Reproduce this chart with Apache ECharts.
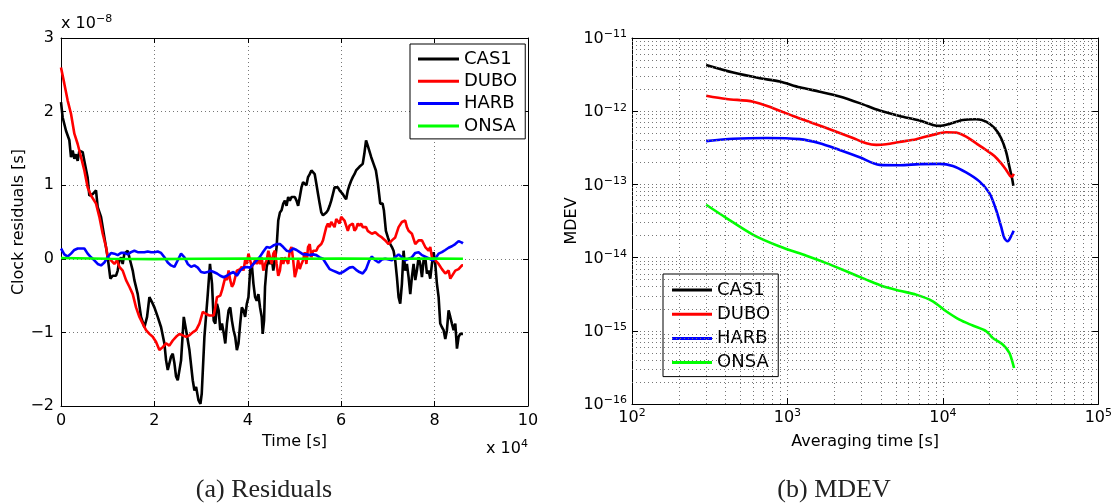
<!DOCTYPE html>
<html>
<head>
<meta charset="utf-8">
<script src="https://cdn.jsdelivr.net/npm/echarts@6/dist/echarts.min.js"></script>
<style>
html, body { margin: 0; padding: 0; background: #fff; }
#main { width: 1115px; height: 504px; }
</style>
</head>
<body>
<div id="main"></div>
<script>
// (a) residuals: time in units of 1e4 s, residual in units of 1e-8 s
const cas1Time = [0, 0.036, 0.107, 0.179, 0.214, 0.25, 0.286, 0.321, 0.357, 0.393, 0.464, 0.5, 0.571, 0.607, 0.679, 0.75, 0.786, 0.857, 0.929, 1.0,
    1.057, 1.107, 1.179, 1.214, 1.25, 1.286, 1.321, 1.357, 1.393, 1.429, 1.464, 1.5, 1.536, 1.571, 1.643, 1.714, 1.786, 1.843, 1.893, 1.964,
    2.0, 2.071, 2.143, 2.214, 2.25, 2.286, 2.357, 2.393, 2.429, 2.464, 2.5, 2.571, 2.629, 2.679, 2.75, 2.821, 2.857, 2.893, 2.943, 2.986,
    3.014, 3.071, 3.143, 3.19, 3.234, 3.27, 3.305, 3.34, 3.376, 3.411, 3.447, 3.482, 3.518, 3.553, 3.589, 3.624, 3.66, 3.695, 3.73, 3.766,
    3.801, 3.837, 3.872, 3.908, 3.943, 3.979, 4.014, 4.05, 4.085, 4.121, 4.156, 4.191, 4.227, 4.262, 4.298, 4.319, 4.348, 4.369, 4.404, 4.44,
    4.475, 4.511, 4.546, 4.582, 4.617, 4.652, 4.688, 4.723, 4.759, 4.794, 4.83, 4.865, 4.9, 4.936, 4.972, 5.007, 5.043, 5.078, 5.113, 5.149,
    5.184, 5.22, 5.255, 5.29, 5.326, 5.362, 5.397, 5.433, 5.468, 5.504, 5.539, 5.574, 5.61, 5.645, 5.681, 5.716, 5.752, 5.787, 5.823, 5.858,
    5.894, 5.929, 5.965, 6.0, 6.035, 6.07, 6.106, 6.142, 6.177, 6.213, 6.248, 6.284, 6.319, 6.355, 6.39, 6.426, 6.461, 6.496, 6.532, 6.567,
    6.603, 6.643, 6.693, 6.743, 6.786, 6.836, 6.886, 6.914, 6.957, 7.0, 7.05, 7.086, 7.121, 7.157, 7.193, 7.229, 7.264, 7.3, 7.336, 7.371,
    7.407, 7.443, 7.479, 7.514, 7.55, 7.586, 7.621, 7.657, 7.693, 7.729, 7.764, 7.8, 7.836, 7.871, 7.907, 7.943, 7.979, 8.014, 8.05, 8.086,
    8.121, 8.157, 8.193, 8.229, 8.264, 8.3, 8.336, 8.371, 8.407, 8.443, 8.479, 8.514, 8.55, 8.586, 8.607]
const cas1Res = [2.13, 1.92, 1.74, 1.61, 1.38, 1.47, 1.36, 1.42, 1.33, 1.47, 1.45, 1.33, 1.10, 0.86, 0.88, 0.93, 0.70, 0.57, 0.29, 0.02,
    -0.27, -0.23, -0.23, -0.16, -0.02, 0.02, -0.07, 0.07, 0.09, 0.11, 0.02, -0.07, -0.16, -0.29, -0.48, -0.79, -0.93, -0.79, -0.52, -0.61,
    -0.66, -0.79, -0.93, -1.15, -1.38, -1.51, -1.33, -1.29, -1.42, -1.60, -1.65, -1.38, -0.79, -0.97, -1.24, -1.65, -1.79, -1.74, -1.92, -1.97,
    -1.83, -1.06, -0.48, -0.07, -0.34, -0.84, -0.88, -0.61, -0.70, -0.97, -0.88, -1.0, -1.15, -0.88, -0.70, -0.66, -0.84, -0.97, -1.06, -1.24,
    -1.15, -0.88, -0.66, -0.70, -0.79, -0.61, -0.52, -0.16, -0.07, -0.34, -0.52, -0.57, -0.48, -0.66, -0.79, -1.02, -0.84, -0.38, -0.11, -0.02,
    -0.07, 0.02, -0.16, -0.02, 0.16, 0.52, 0.63, 0.66, 0.75, 0.79, 0.72, 0.84, 0.79, 0.84, 0.86, 0.84, 0.79, 0.72, 0.84, 0.97,
    1.04, 1.06, 1.0, 1.11, 1.15, 1.2, 1.18, 1.15, 1.02, 0.88, 0.75, 0.63, 0.59, 0.61, 0.63, 0.66, 0.72, 0.79, 0.88, 0.97,
    0.95, 0.97, 0.93, 0.95, 0.88, 0.84, 0.81, 0.93, 1.0, 1.06, 1.11, 1.15, 1.2, 1.22, 1.25, 1.27, 1.29, 1.43, 1.61, 1.54,
    1.56, 1.38, 1.29, 1.2, 1.02, 0.75, 0.75, 0.66, 0.38, 0.29, 0.2, 0.16, 0.11, -0.02, -0.25, -0.52, -0.61, -0.34, 0.11, -0.16,
    -0.07, -0.25, -0.48, -0.25, -0.07, -0.29, -0.16, 0.02, -0.07, -0.25, -0.02, 0.02, -0.2, -0.16, -0.27, -0.07, 0.09, -0.07, -0.34, -0.52,
    -0.88, -0.93, -0.97, -1.09, -0.97, -0.70, -0.79, -0.88, -0.97, -0.88, -1.22, -1.06, -1.02, -1.04, -1.02]

const duboTime = [0, 0.071, 0.143, 0.214, 0.286, 0.357, 0.429, 0.5, 0.571, 0.643, 0.679, 0.75, 0.821, 0.893, 0.964, 1.0, 1.071, 1.143, 1.2, 1.25,
    1.321, 1.393, 1.464, 1.536, 1.607, 1.679, 1.75, 1.821, 1.893, 1.964, 2.036, 2.107, 2.179, 2.25, 2.321, 2.393, 2.464, 2.536, 2.607, 2.679,
    2.75, 2.821, 2.893, 2.964, 3.036, 3.107, 3.179, 3.27, 3.305, 3.34, 3.411, 3.447, 3.482, 3.518, 3.553, 3.589, 3.624, 3.66, 3.695, 3.73,
    3.766, 3.801, 3.837, 3.872, 3.908, 3.943, 3.979, 4.014, 4.05, 4.085, 4.121, 4.156, 4.191, 4.227, 4.262, 4.298, 4.333, 4.369, 4.404, 4.44,
    4.475, 4.511, 4.546, 4.582, 4.617, 4.652, 4.688, 4.723, 4.759, 4.794, 4.83, 4.865, 4.9, 4.936, 4.972, 5.007, 5.043, 5.078, 5.113, 5.149,
    5.184, 5.22, 5.255, 5.29, 5.326, 5.362, 5.397, 5.433, 5.468, 5.504, 5.539, 5.574, 5.61, 5.645, 5.681, 5.716, 5.752, 5.787, 5.823, 5.858,
    5.894, 5.929, 5.965, 6.0, 6.035, 6.07, 6.106, 6.142, 6.177, 6.213, 6.248, 6.284, 6.319, 6.355, 6.39, 6.426, 6.461, 6.496, 6.532, 6.567,
    6.603, 6.657, 6.729, 6.8, 6.871, 6.943, 7.014, 7.086, 7.157, 7.229, 7.3, 7.336, 7.371, 7.407, 7.443, 7.514, 7.586, 7.657, 7.729, 7.8,
    7.871, 7.907, 7.943, 8.014, 8.086, 8.157, 8.229, 8.3, 8.336, 8.371, 8.443, 8.514, 8.586, 8.607]
const duboRes = [2.6, 2.38, 2.15, 1.97, 1.70, 1.56, 1.38, 1.2, 0.97, 0.86, 0.88, 0.75, 0.57, 0.34, 0.16, 0.02, -0.02, -0.07, -0.02, -0.11,
    -0.16, -0.29, -0.38, -0.48, -0.66, -0.79, -0.88, -0.97, -1.02, -1.06, -1.13, -1.24, -1.2, -1.15, -1.18, -1.11, -1.06, -1.02, -1.04, -1.06,
    -1.04, -1.0, -0.97, -0.88, -0.72, -0.75, -0.77, -0.77, -0.66, -0.52, -0.50, -0.43, -0.34, -0.25, -0.29, -0.16, -0.29, -0.38, -0.34, -0.25,
    -0.16, -0.16, -0.14, -0.11, -0.16, -0.02, -0.07, 0.07, -0.02, -0.11, -0.07, -0.02, -0.07, -0.02, -0.07, 0.02, -0.16, -0.07, -0.02, 0.11,
    0.02, -0.07, 0.07, 0.11, -0.07, -0.23, -0.16, 0.02, -0.07, 0.02, -0.02, -0.07, 0.11, 0.16, -0.02, -0.25, -0.16, -0.02, -0.14, -0.07,
    -0.02, 0.09, -0.07, 0.16, 0.2, 0.02, 0.11, 0.09, 0.11, 0.16, 0.16, 0.2, 0.25, 0.34, 0.43, 0.48, 0.43, 0.5, 0.48, 0.43,
    0.54, 0.52, 0.48, 0.57, 0.57, 0.52, 0.52, 0.38, 0.45, 0.43, 0.48, 0.38, 0.41, 0.48, 0.45, 0.48, 0.43, 0.41, 0.43, 0.38,
    0.38, 0.34, 0.36, 0.32, 0.29, 0.25, 0.2, 0.25, 0.29, 0.43, 0.5, 0.48, 0.52, 0.43, 0.38, 0.34, 0.2, 0.25, 0.25, 0.16,
    0.11, 0.16, 0.02, -0.02, -0.07, -0.14, -0.2, -0.16, -0.27, -0.25, -0.16, -0.14, -0.09, -0.09]

const harbTime = [0, 0.071, 0.143, 0.214, 0.286, 0.357, 0.429, 0.5, 0.571, 0.643, 0.714, 0.786, 0.857, 0.929, 1.0, 1.071, 1.143, 1.214, 1.286, 1.357,
    1.429, 1.5, 1.571, 1.643, 1.714, 1.786, 1.857, 1.929, 2.0, 2.071, 2.143, 2.214, 2.286, 2.357, 2.429, 2.5, 2.571, 2.643, 2.714, 2.786,
    2.857, 2.929, 3.0, 3.071, 3.143, 3.199, 3.27, 3.34, 3.411, 3.482, 3.553, 3.624, 3.695, 3.766, 3.837, 3.908, 3.979, 4.05, 4.121, 4.191,
    4.262, 4.333, 4.404, 4.475, 4.546, 4.617, 4.688, 4.759, 4.83, 4.9, 4.972, 5.043, 5.113, 5.184, 5.255, 5.326, 5.397, 5.468, 5.539, 5.61,
    5.681, 5.752, 5.823, 5.894, 5.965, 6.035, 6.106, 6.177, 6.248, 6.319, 6.39, 6.461, 6.532, 6.603, 6.657, 6.729, 6.8, 6.871, 6.943, 7.014,
    7.086, 7.157, 7.229, 7.3, 7.371, 7.443, 7.514, 7.586, 7.657, 7.729, 7.8, 7.871, 7.943, 8.014, 8.086, 8.157, 8.229, 8.3, 8.371, 8.443,
    8.514, 8.586, 8.607]
const harbRes = [0.14, 0.06, 0.03, 0.07, 0.12, 0.14, 0.14, 0.14, 0.07, 0.02, -0.02, -0.07, -0.09, -0.05, 0.02, 0.08, 0.07, 0.05, 0.08, 0.08,
    0.06, 0.09, 0.11, 0.09, 0.09, 0.09, 0.1, 0.09, 0.09, 0.1, 0.08, 0.02, -0.05, -0.09, -0.11, -0.02, 0.07, 0.02, -0.07, -0.11,
    -0.09, -0.12, -0.18, -0.19, -0.18, -0.16, -0.18, -0.2, -0.23, -0.25, -0.23, -0.2, -0.18, -0.23, -0.16, -0.12, -0.11, -0.12, -0.07, -0.02,
    0.03, 0.1, 0.16, 0.15, 0.18, 0.2, 0.2, 0.16, 0.11, 0.1, 0.14, 0.12, 0.09, 0.06, 0.06, 0.05, 0.06, 0.05, 0.02, 0.0,
    -0.07, -0.14, -0.16, -0.18, -0.2, -0.18, -0.15, -0.12, -0.11, -0.15, -0.18, -0.2, -0.14, -0.02, 0.03, -0.02, -0.05, -0.01, 0.0, -0.01,
    -0.02, 0.02, 0.06, 0.02, -0.02, 0.0, 0.02, 0.08, 0.09, 0.05, 0.03, 0.01, -0.02, 0.0, 0.07, 0.09, 0.12, 0.15, 0.17, 0.2,
    0.24, 0.22, 0.21]

const onsaTime = [0, 1, 2, 3, 4, 5, 6, 7, 8, 8.607]
const onsaRes = [0.01, 0.0, -0.005, 0.0, 0.005, 0.0, 0.005, 0.0, 0.005, 0.0]

// (b) MDEV: averaging time [s] and modified Allan deviation
const cas1Tau = [300, 448, 664, 892, 1199, 1612, 2167, 2913, 3916, 5263, 7074, 8618, 9511, 11025, 13428, 16350, 18956, 21450, 23670, 25490, 26770, 27840, 28400]
const cas1Mdev = [4.28e-12, 3.37e-12, 2.82e-12, 2.54e-12, 2.12e-12, 1.85e-12, 1.59e-12, 1.29e-12, 1.02e-12, 8.6e-13, 7.45e-13, 6.5e-13, 6.3e-13, 6.7e-13, 7.6e-13, 7.75e-13, 7.2e-13, 5.9e-13, 4.3e-13, 2.8e-13, 1.76e-13, 1.22e-13, 9.6e-14]
const duboTau = [300, 405, 602, 809, 1087, 1461, 1964, 2639, 3215, 3727, 4321, 5263, 6736, 8618, 10495, 12169, 14105, 16350, 18956, 21450, 23670, 25490, 27040, 27840, 28540]
const duboMdev = [1.63e-12, 1.47e-12, 1.35e-12, 1.10e-12, 8.6e-13, 6.85e-13, 5.45e-13, 4.3e-13, 3.65e-13, 3.47e-13, 3.54e-13, 3.8e-13, 4.15e-13, 4.75e-13, 5.15e-13, 5.1e-13, 4.5e-13, 3.65e-13, 2.95e-13, 2.45e-13, 1.95e-13, 1.58e-13, 1.31e-13, 1.28e-13, 1.40e-13]
const harbTau = [300, 448, 733, 1199, 1612, 2167, 2913, 3916, 5263, 7074, 9511, 11583, 14105, 17180, 19920, 21990, 23670, 24860, 26120, 27440, 28540]
const harbMdev = [3.9e-13, 4.2e-13, 4.3e-13, 4.15e-13, 3.65e-13, 2.95e-13, 2.35e-13, 1.85e-13, 1.83e-13, 1.89e-13, 1.91e-13, 1.79e-13, 1.46e-13, 1.10e-13, 7.6e-14, 4.5e-14, 2.67e-14, 1.85e-14, 1.67e-14, 1.95e-14, 2.33e-14]
const onsaTau = [300, 405, 602, 892, 1324, 1780, 2391, 3215, 4114, 5263, 6736, 8618, 10495, 12784, 15563, 18956, 20930, 24270, 26770, 28120, 28690]
const onsaMdev = [5.27e-14, 3.47e-14, 2.05e-14, 1.42e-14, 1.06e-14, 8.4e-15, 6.5e-15, 5.0e-15, 4.06e-15, 3.53e-15, 3.12e-15, 2.53e-15, 1.85e-15, 1.42e-15, 1.18e-15, 9.9e-16, 8.0e-16, 6.5e-16, 5.0e-16, 3.65e-16, 3.1e-16]

const stations = ['CAS1', 'DUBO', 'HARB', 'ONSA']
const colors = ['#000000', '#ff0000', '#0000ff', '#00ff00']

const FONT = 'DejaVu Sans'
const TAU_MIN = 100, TAU_MAX = 100000
const MDEV_MIN = 1e-16, MDEV_MAX = 1e-11
const zip = (xs, ys) => xs.map((x, i) => [x, ys[i]])
const minus = s => String(s).replace('-', '\u2212')

// minor grid of the log plot: 2..9 inside every decade, drawn as full-width lines
const minorMul = [2, 3, 4, 5, 6, 7, 8, 9]
const minorLines = []
;[2, 3, 4].forEach(e => minorMul.forEach(m => {
    const x = m * Math.pow(10, e)
    minorLines.push([{ coord: [x, MDEV_MIN] }, { coord: [x, MDEV_MAX] }])
}))
;[-16, -15, -14, -13, -12].forEach(e => minorMul.forEach(m => {
    const y = m * Math.pow(10, e)
    minorLines.push([{ coord: [TAU_MIN, y] }, { coord: [TAU_MAX, y] }])
}))

const dotted = { color: '#777', width: 1, type: [1, 3] }
const tickStyle = { inside: true, length: 5, lineStyle: { color: '#000' } }
const black = { onZero: false, lineStyle: { color: '#000', width: 1 } }
const nameStyle = { color: '#000', fontFamily: FONT, fontSize: 16 }

const powRich = {
    b: { fontFamily: FONT, fontSize: 16, color: '#000', lineHeight: 18, verticalAlign: 'bottom', padding: [7, 0, 0, 0] },
    s: { fontFamily: FONT, fontSize: 11, color: '#000', lineHeight: 12, verticalAlign: 'top' }
}
const powLabel = v => '{b|10}{s|' + minus(Math.round(Math.log10(v))) + '}'

const linAxis = (grid, pos, opts) => Object.assign({
    gridIndex: grid, position: pos, axisLine: black, axisTick: tickStyle,
    axisLabel: { show: false }, splitLine: { show: false }
}, opts)

const logAxis = (grid, pos, opts) => Object.assign({
    gridIndex: grid, type: 'log', logBase: 10, position: pos, axisLine: black,
    axisTick: { inside: true, length: 6, lineStyle: { color: '#000' } },
    axisLabel: { show: false }, splitLine: { show: false }
}, opts)

const chart = echarts.init(document.getElementById('main'))
const option = {
    animation: false,
    backgroundColor: '#fff',
    grid: [
        { left: 61, right: 587, top: 38, bottom: 98 },
        { left: 632, right: 16, top: 38, bottom: 100 }
    ],
    xAxis: [
        linAxis(0, 'bottom', {
            type: 'value', min: 0, max: 10, interval: 2,
            axisLabel: { color: '#000', fontFamily: FONT, fontSize: 16, margin: 7 },
            splitLine: { show: true, lineStyle: dotted },
            name: 'Time [s]', nameLocation: 'middle', nameGap: 26, nameTextStyle: nameStyle
        }),
        linAxis(0, 'top', { type: 'value', min: 0, max: 10, interval: 2 }),
        logAxis(1, 'bottom', {
            min: TAU_MIN, max: TAU_MAX,
            axisLabel: { formatter: powLabel, rich: powRich, margin: 4 },
            splitLine: { show: true, lineStyle: dotted },
            name: 'Averaging time [s]', nameLocation: 'middle', nameGap: 30, nameTextStyle: nameStyle
        }),
        logAxis(1, 'top', { min: TAU_MIN, max: TAU_MAX })
    ],
    yAxis: [
        linAxis(0, 'left', {
            type: 'value', min: -2, max: 3, interval: 1,
            axisLabel: { color: '#000', fontFamily: FONT, fontSize: 16, margin: 7, formatter: minus },
            splitLine: { show: true, lineStyle: dotted },
            name: 'Clock residuals [s]', nameLocation: 'middle', nameGap: 29, nameTextStyle: nameStyle
        }),
        linAxis(0, 'right', { type: 'value', min: -2, max: 3, interval: 1 }),
        logAxis(1, 'left', {
            min: MDEV_MIN, max: MDEV_MAX,
            axisLabel: { formatter: powLabel, rich: powRich, margin: 5 },
            splitLine: { show: true, lineStyle: dotted },
            name: 'MDEV', nameLocation: 'middle', nameGap: 52, nameTextStyle: nameStyle
        }),
        logAxis(1, 'right', { min: MDEV_MIN, max: MDEV_MAX })
    ],
    legend: [
        {
            data: stations, orient: 'vertical', left: 410, top: 44,
            icon: 'rect', itemWidth: 41, itemHeight: 3, itemGap: 0.3,
            padding: [4, 8, 2, 8], backgroundColor: '#fff', borderColor: '#000', borderWidth: 1,
            textStyle: { color: '#000', fontFamily: FONT, fontSize: 18, lineHeight: 22 }
        },
        {
            data: stations, orient: 'vertical', left: 663, top: 274,
            icon: 'rect', itemWidth: 40, itemHeight: 3, itemGap: 0.2,
            padding: [4, 8, 2, 9], backgroundColor: '#fff', borderColor: '#000', borderWidth: 1,
            textStyle: { color: '#000', fontFamily: FONT, fontSize: 18, lineHeight: 24 }
        }
    ],
    graphic: [
        {
            type: 'text', left: 61, top: 9,
            style: { text: '{b|x 10}{s|\u22128}', rich: powRich }
        },
        {
            type: 'text', left: 486, top: 434,
            style: { text: '{b|x 10}{s|4}', rich: powRich }
        },
        {
            type: 'text', x: 264, y: 490,
            style: { text: '(a) Residuals', fontFamily: 'Liberation Serif', fontSize: 26, fill: '#222', align: 'center', verticalAlign: 'middle' }
        },
        {
            type: 'text', x: 834, y: 490,
            style: { text: '(b) MDEV', fontFamily: 'Liberation Serif', fontSize: 26, fill: '#222', align: 'center', verticalAlign: 'middle' }
        }
    ],
    series: [
        { name: 'CAS1', data: zip(cas1Time, cas1Res) },
        { name: 'DUBO', data: zip(duboTime, duboRes) },
        { name: 'HARB', data: zip(harbTime, harbRes) },
        { name: 'ONSA', data: zip(onsaTime, onsaRes) }
    ].map((s, i) => Object.assign(s, {
        type: 'line', xAxisIndex: 0, yAxisIndex: 0, showSymbol: false, color: colors[i],
        lineStyle: { width: 2.6, color: colors[i] }
    })).concat([
        {
            name: 'minor-grid', type: 'line', xAxisIndex: 2, yAxisIndex: 2, data: [], z: 1, silent: true,
            markLine: { silent: true, symbol: ['none', 'none'], label: { show: false }, lineStyle: dotted, data: minorLines }
        }
    ]).concat([
        { name: 'CAS1', data: zip(cas1Tau, cas1Mdev) },
        { name: 'DUBO', data: zip(duboTau, duboMdev) },
        { name: 'HARB', data: zip(harbTau, harbMdev) },
        { name: 'ONSA', data: zip(onsaTau, onsaMdev) }
    ].map((s, i) => Object.assign(s, {
        type: 'line', xAxisIndex: 2, yAxisIndex: 2, showSymbol: false, smooth: 0.3, color: colors[i],
        lineStyle: { width: 2.6, color: colors[i] }
    })))
}
chart.setOption(option)
</script>
</body>
</html>
